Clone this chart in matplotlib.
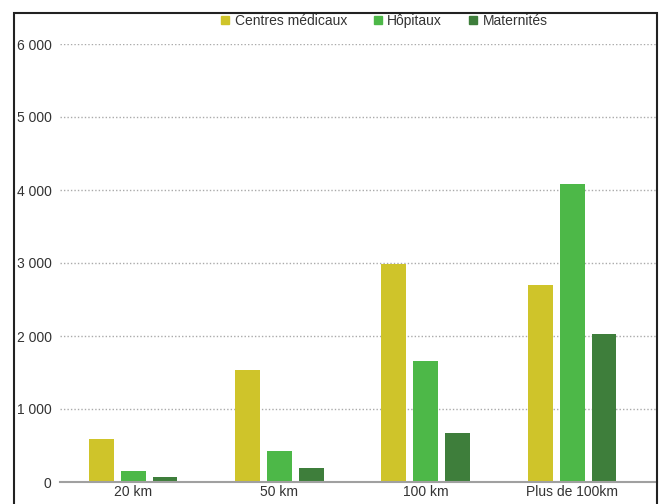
import numpy as np
import matplotlib
matplotlib.use('Agg')
import matplotlib.pyplot as plt
from matplotlib.patches import Rectangle
from matplotlib.lines import Line2D

plt.rcParams['font.family'] = ['Liberation Sans', 'DejaVu Sans']

categories = ['20 km', '50 km', '100 km', 'Plus de 100km']
series = ['Centres médicaux', 'Hôpitaux', 'Maternités']
centres = [590, 1535, 2990, 2700]
hopitaux = [150, 425, 1660, 4080]
maternites = [65, 195, 675, 2030]
yticks = [0, 1000, 2000, 3000, 4000, 5000, 6000]
ytick_labels = ['0', '1 000', '2 000', '3 000', '4 000', '5 000', '6 000']

YELLOW = '#CFC42A'
GREEN = '#4DB848'
DARK = '#3E7E3B'
colors = [YELLOW, GREEN, DARK]

fig = plt.figure(figsize=(6.61, 5.04), dpi=100)
ax = fig.add_axes([60 / 661, 22 / 504, 597 / 661, 438 / 504])

x = np.arange(len(categories))
width = 0.17
offset = 0.218
for i, (vals, col) in enumerate(zip([centres, hopitaux, maternites], colors)):
    ax.bar(x + (i - 1) * offset, vals, width, color=col, zorder=3)

ax.set_xlim(-0.5, 3.58)
ax.set_ylim(0, 6000)
ax.set_yticks(yticks)
ax.set_yticklabels(ytick_labels)
ax.set_xticks(x)
ax.set_xticklabels(categories)
ax.tick_params(axis='both', length=0, labelsize=10, labelcolor='#333333')
ax.tick_params(axis='y', pad=6)
ax.tick_params(axis='x', pad=2)

for t in yticks[1:]:
    ax.axhline(t, color='#AAAAAA', linestyle=(0, (1, 1.5)), linewidth=1.0, zorder=1)
ax.axhline(0, color='#A0A0A0', linewidth=1.5, zorder=4, clip_on=False)

for s in ax.spines.values():
    s.set_visible(False)

# outer frame around the chart
fig.patches.append(Rectangle((14 / 661, -0.02), 643 / 661, 1.0 - 12.5 / 504 + 0.02,
                             transform=fig.transFigure, fill=False,
                             edgecolor='#222222', linewidth=1.5))

handles = [Line2D([], [], marker='s', linestyle='none', markersize=6,
                  markerfacecolor=c, markeredgecolor=c) for c in colors]
fig.legend(handles, series, loc='center', bbox_to_anchor=(382 / 661, 1 - 21 / 504),
           ncol=3, frameon=False, fontsize=10, handlelength=1.2, handletextpad=0.1,
           columnspacing=1.6, labelcolor='#333333')

fig.savefig('out.png', dpi=100)
